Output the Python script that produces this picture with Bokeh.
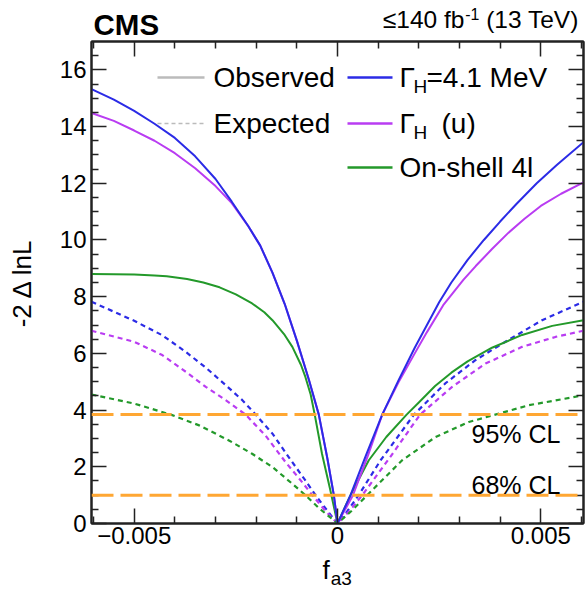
from bokeh.plotting import figure
from bokeh.layouts import column
from bokeh.models import Range1d, FixedTicker, LinearAxis, Span, Label, CustomJSTickFormatter
from bokeh.embed import file_html
from bokeh.resources import INLINE

# ---------------- data ----------------
x_ticks = [-0.005, 0.0, 0.005]
x_tick_labels = ["\u22120.005", "0", "0.005"]
x_minor = [-0.006, -0.004, -0.003, -0.002, -0.001, 0.001, 0.002, 0.003, 0.004, 0.006]
y_ticks = [0, 2, 4, 6, 8, 10, 12, 14, 16]
y_tick_labels = ["0", "2", "4", "6", "8", "10", "12", "14", "16"]
y_minor = [0.5, 1, 1.5, 2.5, 3, 3.5, 4.5, 5, 5.5, 6.5, 7, 7.5, 8.5, 9, 9.5,
           10.5, 11, 11.5, 12.5, 13, 13.5, 14.5, 15, 15.5, 16.5]

# observed, Gamma_H = 4.1 MeV
obs_fixed_x = [-0.00605, -0.0055, -0.005, -0.0045, -0.004, -0.0035, -0.003, -0.0026, -0.0022,
               -0.0019, -0.0016, -0.0013, -0.001, -0.0007, -0.00046, -0.00025, -0.00009, 0.0,
               0.00032, 0.0007, 0.0011, 0.0015, 0.0019, 0.0025, 0.0028, 0.0032, 0.0036,
               0.0040, 0.0044, 0.0049, 0.0054, 0.00605]
obs_fixed_y = [15.32, 14.95, 14.55, 14.10, 13.60, 12.95, 12.15, 11.35, 10.50,
               9.80, 8.85, 7.75, 6.45, 5.05, 3.84, 2.30, 1.00, 0.0,
               1.00, 2.40, 3.84, 5.05, 6.20, 7.80, 8.50, 9.30, 10.00,
               10.65, 11.27, 12.00, 12.65, 13.45]
# observed, Gamma_H unconstrained
obs_free_x = [-0.00605, -0.0055, -0.005, -0.0045, -0.004, -0.0035, -0.003, -0.0026, -0.0022,
              -0.0019, -0.0016, -0.0013, -0.001, -0.0007, -0.00046, -0.00025, -0.00009, 0.0,
              0.00038, 0.00075, 0.0011, 0.0015, 0.0019, 0.0022, 0.0026, 0.0031, 0.0034,
              0.0038, 0.0042, 0.0046, 0.0050, 0.0055, 0.00605]
obs_free_y = [14.48, 14.20, 13.86, 13.50, 13.06, 12.53, 11.90, 11.30, 10.50,
              9.80, 8.85, 7.75, 6.45, 5.05, 3.84, 2.30, 1.00, 0.0,
              1.00, 2.40, 3.84, 4.98, 6.00, 6.75, 7.70, 8.60, 9.08,
              9.68, 10.25, 10.75, 11.20, 11.63, 12.03]
# observed, on-shell 4l
obs_on_x = [-0.00605, -0.0055, -0.005, -0.0045, -0.0042, -0.0037, -0.0033, -0.0029, -0.0025,
            -0.0021, -0.0018, -0.0016, -0.0013, -0.00111, -0.0009, -0.00079, -0.00066,
            -0.00056, -0.00038, -0.00018, 0.0, 0.00032, 0.00077, 0.0012, 0.0017, 0.0020,
            0.0024, 0.0028, 0.0032, 0.0038, 0.00454, 0.00528, 0.00605]
obs_on_y = [8.80, 8.79, 8.78, 8.75, 8.72, 8.62, 8.50, 8.33, 8.08,
            7.76, 7.45, 7.17, 6.65, 6.23, 5.60, 5.17, 4.55,
            3.84, 2.45, 1.20, 0.0, 1.00, 2.23, 3.05, 3.84, 4.27,
            4.85, 5.32, 5.72, 6.20, 6.65, 6.97, 7.17]
# expected
exp_fixed_x = [-0.00605, -0.005, -0.00431, -0.00373, -0.00324, -0.00275, -0.00234, -0.00201,
               -0.0016, -0.0012, -0.00079, -0.00054, -0.00025, 0.0, 0.00025, 0.00052,
               0.00106, 0.00188, 0.00265, 0.00339, 0.00413, 0.00503, 0.00605]
exp_fixed_y = [7.82, 7.15, 6.64, 6.05, 5.50, 4.88, 4.35, 3.84,
               3.17, 2.34, 1.52, 1.00, 0.45, 0.0, 0.45, 1.00,
               2.23, 3.84, 4.94, 5.76, 6.41, 7.17, 7.82]
exp_free_x = [-0.00605, -0.005, -0.00431, -0.00373, -0.00324, -0.00275, -0.00226, -0.00177,
              -0.00128, -0.00087, -0.00062, -0.0003, 0.0, 0.0003, 0.00061, 0.0013,
              0.00203, 0.00282, 0.00364, 0.00454, 0.00536, 0.00605]
exp_free_y = [6.80, 6.41, 5.94, 5.35, 4.82, 4.35, 3.84, 3.10,
              2.17, 1.46, 1.00, 0.45, 0.0, 0.45, 1.00, 2.35,
              3.84, 4.82, 5.64, 6.23, 6.58, 6.80]
exp_on_x = [-0.00605, -0.005, -0.0041, -0.0034, -0.00267, -0.0021, -0.0016, -0.00111,
            -0.00079, -0.00046, 0.0, 0.00035, 0.00073, 0.00159, 0.00241, 0.00323,
            0.00388, 0.0047, 0.00605]
exp_on_y = [4.55, 4.23, 3.84, 3.46, 2.93, 2.46, 1.99, 1.40,
            1.00, 0.55, 0.0, 0.45, 1.00, 2.23, 3.05, 3.58,
            3.84, 4.17, 4.52]

cl_levels = [1.0, 3.84]
cl_labels = ["68% CL", "95% CL"]

# ---------------- layout ----------------
W, H = 587, 589
HEAD_H = 40           # header strip height
FOOT_H = 35           # footer strip height (x-axis title)
FL, FR, FT, FB = 91, 583, 41, 523   # frame edges on the page
X0, X1, Y0, Y1 = -0.00605, 0.00605, 0.0, 17.0
FONT = "Liberation Sans"
BLUE, MAG, GREEN, ORANGE, GREY, AX = "#2b2be6", "#b93cf2", "#23992a", "#ffa733", "#bbbbbb", "#222222"


def dx(px):
    return X0 + (px - FL) / (FR - FL) * (X1 - X0)


def dy(py):
    return Y0 + (FB - py) / (FB - FT) * (Y1 - Y0)


AW = {' ': 278, '(': 333, ')': 333, '.': 278, '%': 889, '-': 333, '=': 584, '\u2264': 584,
      'f': 278, 'b': 556, 'T': 611, 'e': 556, 'V': 667, 'M': 833, 'C': 722, 'L': 556,
      'H': 722, '\u0393': 556, 'u': 556, 'O': 778, 's': 500, 'r': 333, 'v': 500, 'd': 556,
      'n': 556, 'h': 556, 'l': 222, 'a': 556}


def tw(s, size):
    return sum(AW.get(c, 556) for c in s) / 1000.0 * size


def lab(fig, x, y, text, size, align="left", style="normal", units="data"):
    fig.add_layout(Label(x=x, y=y, x_units=units, y_units=units, text=text, text_font=FONT,
                         text_font_size=f"{size:.1f}px", text_font_style=style,
                         text_align=align, text_baseline="middle", text_color="black"))


def strip(h):
    f = figure(width=W, height=h, x_range=Range1d(0, 1), y_range=Range1d(0, 1),
               output_backend="svg", toolbar_location=None, x_axis_type=None,
               y_axis_type=None, min_border=0)
    f.grid.visible = False
    f.outline_line_color = None
    f.background_fill_color = "white"
    f.border_fill_color = "white"
    return f


MAIN_H = H - HEAD_H - FOOT_H
p = figure(width=W, height=MAIN_H, x_range=Range1d(X0, X1), y_range=Range1d(Y0, Y1),
           output_backend="svg", toolbar_location=None,
           min_border_left=FL, min_border_right=W - FR, min_border_top=FT - HEAD_H,
           min_border_bottom=MAIN_H - (FB - HEAD_H))
p.grid.visible = False
p.outline_line_color = AX
p.outline_line_width = 2
p.background_fill_color = "white"
p.border_fill_color = "white"

xt = FixedTicker(ticks=x_ticks, minor_ticks=x_minor)
yt = FixedTicker(ticks=y_ticks, minor_ticks=y_minor)


def style_axis(ax, size="24px"):
    ax.axis_line_color = AX
    ax.axis_line_width = 2
    ax.major_tick_line_color = AX
    ax.minor_tick_line_color = AX
    ax.major_tick_line_width = 1.5
    ax.minor_tick_line_width = 1.5
    ax.major_tick_in = 15
    ax.major_tick_out = 0
    ax.minor_tick_in = 7
    ax.minor_tick_out = 0
    ax.major_label_text_font = FONT
    ax.major_label_text_font_size = size
    ax.major_label_text_color = "black"


xa = p.xaxis[0]
xa.ticker = xt
xa.major_label_overrides = dict(zip(x_ticks, x_tick_labels))
style_axis(xa)
xa.major_label_standoff = 3

ya = p.yaxis[0]
ya.ticker = yt
ya.major_label_overrides = dict(zip(y_ticks, y_tick_labels))
style_axis(ya)
ya.major_label_standoff = 5
ya.axis_label = "-2 \u0394 lnL"
ya.axis_label_text_font = FONT
ya.axis_label_text_font_size = "26px"
ya.axis_label_text_font_style = "normal"
ya.axis_label_text_color = "black"
ya.axis_label_standoff = 20

blank = CustomJSTickFormatter(code="return ''")
top = LinearAxis(ticker=xt, formatter=blank, major_label_standoff=0)
style_axis(top, "0px")
p.add_layout(top, "above")
right = LinearAxis(ticker=yt, formatter=blank, major_label_standoff=0)
style_axis(right, "0px")
p.add_layout(right, "right")

# curves: expected (dashed) then observed (solid)
for xs, ys, c in [(exp_fixed_x, exp_fixed_y, BLUE), (exp_free_x, exp_free_y, MAG),
                  (exp_on_x, exp_on_y, GREEN)]:
    p.line(xs, ys, line_color=c, line_width=2.2, line_dash="5 4", line_join="round")
for xs, ys, c in [(obs_on_x, obs_on_y, GREEN), (obs_free_x, obs_free_y, MAG),
                  (obs_fixed_x, obs_fixed_y, BLUE)]:
    p.line(xs, ys, line_color=c, line_width=2, line_join="round")

# CL lines and labels
for lev, t in zip(cl_levels, cl_labels):
    p.add_layout(Span(location=lev, dimension="width", line_color=ORANGE,
                      line_width=3, line_dash="22 7"))
    lab(p, dx(471), lev + (-0.68 if lev > 2 else 0.36), t, 25)

# legend
LS = 28
SUB = 19
rows = [77, 123, 167]
p.line([dx(157), dx(204)], [dy(rows[0])] * 2, line_color=GREY, line_width=2.5)
p.line([dx(157), dx(204)], [dy(rows[1])] * 2, line_color=GREY, line_width=1.5, line_dash="4 3")
for r, t in zip(rows[:2], ["Observed", "Expected"]):
    lab(p, dx(213), dy(r), t, LS)
for r, c in zip(rows, [BLUE, MAG, GREEN]):
    p.line([dx(347), dx(392)], [dy(r)] * 2, line_color=c, line_width=2.5)
col2 = 399
for r, rest, rx in zip(rows[:2], ["=4.1 MeV", "(u)"], [426, 441]):
    lab(p, dx(col2), dy(r), "\u0393", LS)
    lab(p, dx(col2 + 14), dy(r + 9), "H", SUB)
    lab(p, dx(rx), dy(r), rest, LS)
lab(p, dx(col2), dy(rows[2]), "On-shell 4l", LS)

# header strip: CMS and luminosity (canvas pixel units, y from top)
head = strip(HEAD_H)
lab(head, FL + 2, 23.5, "CMS", 29.5, style="bold", units="canvas")
LUM = 24.5
SUP = 0.65 * LUM
t1, t2, t3 = "\u2264140 fb", "-1", "(13 TeV)"
x3 = FR - 2 - tw(t3, LUM)
x2 = x3 - tw(" ", LUM) - tw(t2, SUP)
x1 = x2 - tw(t1, LUM)
lab(head, x1, 18.5, t1, LUM, units="canvas")
lab(head, x2, 13, t2, SUP, units="canvas")
lab(head, x3, 18.5, t3, LUM, units="canvas")

# footer strip: x axis title f_a3 (canvas pixel units)
foot = strip(FOOT_H)
FOOT_Y0 = H - FOOT_H
XS = 26
lab(foot, 322, 569 - FOOT_Y0, "f", XS, units="canvas")
lab(foot, 322 + tw("f", XS) + 1, 577.5 - FOOT_Y0, "a3", 19, units="canvas")

layout = column(head, p, foot, spacing=0)
open("out.html", "w").write(file_html(layout, INLINE))
